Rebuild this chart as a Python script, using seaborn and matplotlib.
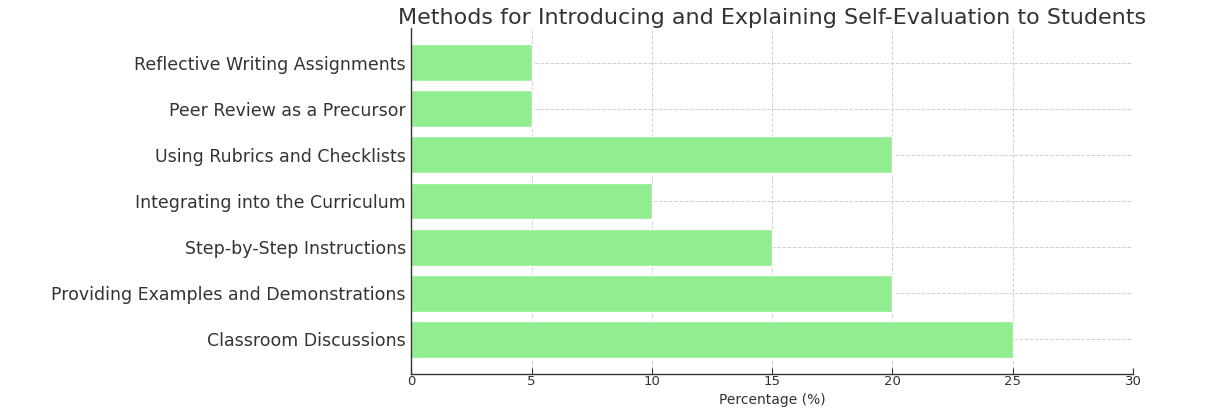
import seaborn as sns
import matplotlib.pyplot as plt
import pandas as pd

# -------------------------------
# Data (top to bottom as shown)
# -------------------------------
methods = [
    "Reflective Writing Assignments",
    "Peer Review as a Precursor",
    "Using Rubrics and Checklists",
    "Integrating into the Curriculum",
    "Step-by-Step Instructions",
    "Providing Examples and Demonstrations",
    "Classroom Discussions",
]
percentages = [5, 5, 20, 10, 15, 20, 25]
x_ticks = [0, 5, 10, 15, 20, 25, 30]

data = pd.DataFrame({"Method": methods, "Percentage": percentages})

# -------------------------------
# Create Visualization
# -------------------------------
sns.set_style("ticks")
plt.rcParams["font.family"] = ["DejaVu Sans"]
plt.rcParams["text.color"] = "#333333"
plt.rcParams["xtick.color"] = "#333333"
plt.rcParams["ytick.color"] = "#333333"
plt.rcParams["axes.labelcolor"] = "#333333"

fig = plt.figure(figsize=(12.17, 4.08), dpi=100)
ax = fig.add_axes([0.338, 0.0833, 0.593, 0.848])

sns.barplot(
    data=data,
    x="Percentage",
    y="Method",
    order=methods,
    color="lightgreen",
    saturation=1,
    width=0.8,
    ax=ax,
)

ax.set_title("Methods for Introducing and Explaining Self-Evaluation to Students",
             fontsize=16, pad=3)
ax.set_xlabel("Percentage (%)", fontsize=10)
ax.xaxis.set_label_coords(0.5, -0.088)
ax.xaxis.label.set_va("baseline")
ax.set_ylabel("")
ax.set_xlim(0, 30)
ax.set_ylim(6.75, -0.75)
ax.set_xticks(x_ticks)
ax.tick_params(axis="both", direction="in", length=4, width=0.8)
ax.tick_params(axis="y", labelsize=12.5, pad=4)
ax.tick_params(axis="x", labelsize=9.5, pad=1)

ax.grid(True, linestyle="--", color="#d0d0d0", linewidth=0.7)
ax.set_axisbelow(True)
sns.despine(ax=ax)
for side in ["left", "bottom"]:
    ax.spines[side].set_color("#333333")
    ax.spines[side].set_linewidth(1.0)

# -------------------------------
# Save Chart
# -------------------------------
plt.savefig("out.png", dpi=100)
plt.close()
